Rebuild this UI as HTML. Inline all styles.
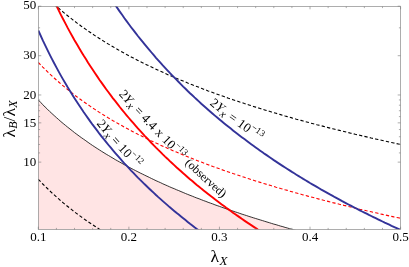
<!DOCTYPE html>
<html><head><meta charset="utf-8"><style>
html,body{margin:0;padding:0;background:#fff;}
svg{display:block;will-change:transform;font-family:"Liberation Serif",serif;}
</style></head><body>
<svg width="409" height="267" viewBox="0 0 409 267">
<defs><clipPath id="c"><rect x="38.3" y="6.2" width="362.3" height="223.1"/></clipPath>
<clipPath id="c2"><rect x="38.3" y="6.2" width="362.3" height="225.1"/></clipPath></defs>
<rect width="409" height="267" fill="#fff"/>
<g clip-path="url(#c)"><path d="M38.3,100.0 L40.6,102.3 L42.8,104.7 L45.1,107.0 L47.4,109.2 L49.6,111.4 L51.9,113.5 L54.2,115.6 L56.4,117.6 L58.7,119.6 L60.9,121.6 L63.2,123.5 L65.5,125.4 L67.7,127.2 L70.0,129.0 L72.3,130.8 L74.5,132.6 L76.8,134.3 L79.1,136.0 L81.3,137.6 L83.6,139.2 L85.9,140.8 L88.1,142.4 L90.4,144.0 L92.6,145.5 L94.9,147.0 L97.2,148.5 L99.4,149.9 L101.7,151.4 L104.0,152.8 L106.2,154.2 L108.5,155.5 L110.8,156.9 L113.0,158.2 L115.3,159.6 L117.6,160.9 L119.8,162.1 L122.1,163.4 L124.3,164.7 L126.6,165.9 L128.9,167.1 L131.1,168.3 L133.4,169.5 L135.7,170.7 L137.9,171.8 L140.2,173.0 L142.5,174.1 L144.7,175.2 L147.0,176.3 L149.3,177.4 L151.5,178.5 L153.8,179.6 L156.0,180.7 L158.3,181.7 L160.6,182.7 L162.8,183.8 L165.1,184.8 L167.4,185.8 L169.6,186.8 L171.9,187.8 L174.2,188.7 L176.4,189.7 L178.7,190.6 L181.0,191.6 L183.2,192.5 L185.5,193.5 L187.7,194.4 L190.0,195.3 L192.3,196.2 L194.5,197.1 L196.8,198.0 L199.1,198.8 L201.3,199.7 L203.6,200.6 L205.9,201.4 L208.1,202.3 L210.4,203.1 L212.7,203.9 L214.9,204.8 L217.2,205.6 L219.5,206.4 L221.7,207.2 L224.0,208.0 L226.2,208.8 L228.5,209.6 L230.8,210.4 L233.0,211.1 L235.3,211.9 L237.6,212.6 L239.8,213.4 L242.1,214.2 L244.4,214.9 L246.6,215.6 L248.9,216.4 L251.2,217.1 L253.4,217.8 L255.7,218.5 L257.9,219.2 L260.2,219.9 L262.5,220.6 L264.7,221.3 L267.0,222.0 L269.3,222.7 L271.5,223.4 L273.8,224.1 L276.1,224.7 L278.3,225.4 L280.6,226.1 L282.9,226.7 L285.1,227.4 L287.4,228.0 L289.6,228.7 L291.9,229.3 L294.2,229.9 L296.4,230.6 L298.7,231.2 L301.0,231.8 L303.2,232.4 L305.5,233.1 L307.8,233.7 L310.0,234.3 L312.3,234.9 L314.6,235.5 L316.8,236.1 L319.1,236.7 L321.3,237.3 L323.6,237.8 L325.9,238.4 L328.1,239.0 L330.4,239.6 L332.7,240.1 L334.9,240.7 L337.2,241.3 L339.5,241.8 L341.7,242.4 L344.0,243.0 L346.3,243.5 L348.5,244.1 L350.8,244.6 L353.0,245.1 L355.3,245.7 L357.6,246.2 L359.8,246.8 L362.1,247.3 L364.4,247.8 L366.6,248.3 L368.9,248.9 L371.2,249.4 L373.4,249.9 L375.7,250.4 L378.0,250.9 L380.2,251.4 L382.5,251.9 L384.7,252.4 L387.0,252.9 L389.3,253.4 L391.5,253.9 L393.8,254.4 L396.1,254.9 L398.3,255.4 L400.6,255.9 L400.6,232.3 L38.3,232.3 Z" fill="#ffe4e4"/></g>
<g clip-path="url(#c)" fill="none">
<path d="M38.3,100.0 L40.6,102.3 L42.8,104.7 L45.1,107.0 L47.4,109.2 L49.6,111.4 L51.9,113.5 L54.2,115.6 L56.4,117.6 L58.7,119.6 L60.9,121.6 L63.2,123.5 L65.5,125.4 L67.7,127.2 L70.0,129.0 L72.3,130.8 L74.5,132.6 L76.8,134.3 L79.1,136.0 L81.3,137.6 L83.6,139.2 L85.9,140.8 L88.1,142.4 L90.4,144.0 L92.6,145.5 L94.9,147.0 L97.2,148.5 L99.4,149.9 L101.7,151.4 L104.0,152.8 L106.2,154.2 L108.5,155.5 L110.8,156.9 L113.0,158.2 L115.3,159.6 L117.6,160.9 L119.8,162.1 L122.1,163.4 L124.3,164.7 L126.6,165.9 L128.9,167.1 L131.1,168.3 L133.4,169.5 L135.7,170.7 L137.9,171.8 L140.2,173.0 L142.5,174.1 L144.7,175.2 L147.0,176.3 L149.3,177.4 L151.5,178.5 L153.8,179.6 L156.0,180.7 L158.3,181.7 L160.6,182.7 L162.8,183.8 L165.1,184.8 L167.4,185.8 L169.6,186.8 L171.9,187.8 L174.2,188.7 L176.4,189.7 L178.7,190.6 L181.0,191.6 L183.2,192.5 L185.5,193.5 L187.7,194.4 L190.0,195.3 L192.3,196.2 L194.5,197.1 L196.8,198.0 L199.1,198.8 L201.3,199.7 L203.6,200.6 L205.9,201.4 L208.1,202.3 L210.4,203.1 L212.7,203.9 L214.9,204.8 L217.2,205.6 L219.5,206.4 L221.7,207.2 L224.0,208.0 L226.2,208.8 L228.5,209.6 L230.8,210.4 L233.0,211.1 L235.3,211.9 L237.6,212.6 L239.8,213.4 L242.1,214.2 L244.4,214.9 L246.6,215.6 L248.9,216.4 L251.2,217.1 L253.4,217.8 L255.7,218.5 L257.9,219.2 L260.2,219.9 L262.5,220.6 L264.7,221.3 L267.0,222.0 L269.3,222.7 L271.5,223.4 L273.8,224.1 L276.1,224.7 L278.3,225.4 L280.6,226.1 L282.9,226.7 L285.1,227.4 L287.4,228.0 L289.6,228.7 L291.9,229.3 L294.2,229.9 L296.4,230.6 L298.7,231.2 L301.0,231.8 L303.2,232.4 L305.5,233.1 L307.8,233.7 L310.0,234.3 L312.3,234.9 L314.6,235.5 L316.8,236.1 L319.1,236.7 L321.3,237.3 L323.6,237.8 L325.9,238.4 L328.1,239.0 L330.4,239.6 L332.7,240.1 L334.9,240.7 L337.2,241.3 L339.5,241.8 L341.7,242.4 L344.0,243.0 L346.3,243.5 L348.5,244.1 L350.8,244.6 L353.0,245.1 L355.3,245.7 L357.6,246.2 L359.8,246.8 L362.1,247.3 L364.4,247.8 L366.6,248.3 L368.9,248.9 L371.2,249.4 L373.4,249.9 L375.7,250.4 L378.0,250.9 L380.2,251.4 L382.5,251.9 L384.7,252.4 L387.0,252.9 L389.3,253.4 L391.5,253.9 L393.8,254.4 L396.1,254.9 L398.3,255.4 L400.6,255.9" stroke="#000" stroke-width="0.8"/>
<path d="M38.3,-11.5 L40.6,-9.1 L42.8,-6.7 L45.1,-4.5 L47.4,-2.2 L49.6,-0.1 L51.9,2.1 L54.2,4.2 L56.4,6.2 L58.7,8.2 L60.9,10.2 L63.2,12.1 L65.5,14.0 L67.7,15.8 L70.0,17.6 L72.3,19.4 L74.5,21.1 L76.8,22.9 L79.1,24.5 L81.3,26.2 L83.6,27.8 L85.9,29.4 L88.1,31.0 L90.4,32.5 L92.6,34.1 L94.9,35.6 L97.2,37.1 L99.4,38.5 L101.7,39.9 L104.0,41.4 L106.2,42.8 L108.5,44.1 L110.8,45.5 L113.0,46.8 L115.3,48.1 L117.6,49.4 L119.8,50.7 L122.1,52.0 L124.3,53.2 L126.6,54.5 L128.9,55.7 L131.1,56.9 L133.4,58.1 L135.7,59.3 L137.9,60.4 L140.2,61.6 L142.5,62.7 L144.7,63.8 L147.0,64.9 L149.3,66.0 L151.5,67.1 L153.8,68.2 L156.0,69.2 L158.3,70.3 L160.6,71.3 L162.8,72.3 L165.1,73.4 L167.4,74.4 L169.6,75.4 L171.9,76.3 L174.2,77.3 L176.4,78.3 L178.7,79.2 L181.0,80.2 L183.2,81.1 L185.5,82.0 L187.7,83.0 L190.0,83.9 L192.3,84.8 L194.5,85.7 L196.8,86.5 L199.1,87.4 L201.3,88.3 L203.6,89.2 L205.9,90.0 L208.1,90.9 L210.4,91.7 L212.7,92.5 L214.9,93.4 L217.2,94.2 L219.5,95.0 L221.7,95.8 L224.0,96.6 L226.2,97.4 L228.5,98.2 L230.8,98.9 L233.0,99.7 L235.3,100.5 L237.6,101.2 L239.8,102.0 L242.1,102.7 L244.4,103.5 L246.6,104.2 L248.9,104.9 L251.2,105.7 L253.4,106.4 L255.7,107.1 L257.9,107.8 L260.2,108.5 L262.5,109.2 L264.7,109.9 L267.0,110.6 L269.3,111.3 L271.5,112.0 L273.8,112.6 L276.1,113.3 L278.3,114.0 L280.6,114.6 L282.9,115.3 L285.1,116.0 L287.4,116.6 L289.6,117.2 L291.9,117.9 L294.2,118.5 L296.4,119.2 L298.7,119.8 L301.0,120.4 L303.2,121.0 L305.5,121.6 L307.8,122.2 L310.0,122.9 L312.3,123.5 L314.6,124.1 L316.8,124.7 L319.1,125.2 L321.3,125.8 L323.6,126.4 L325.9,127.0 L328.1,127.6 L330.4,128.2 L332.7,128.7 L334.9,129.3 L337.2,129.9 L339.5,130.4 L341.7,131.0 L344.0,131.5 L346.3,132.1 L348.5,132.6 L350.8,133.2 L353.0,133.7 L355.3,134.3 L357.6,134.8 L359.8,135.3 L362.1,135.9 L364.4,136.4 L366.6,136.9 L368.9,137.4 L371.2,138.0 L373.4,138.5 L375.7,139.0 L378.0,139.5 L380.2,140.0 L382.5,140.5 L384.7,141.0 L387.0,141.5 L389.3,142.0 L391.5,142.5 L393.8,143.0 L396.1,143.5 L398.3,144.0 L400.6,144.5" stroke="#000" stroke-width="1.1" stroke-dasharray="3.3,2.2"/>
<path d="M38.3,179.3 L40.6,181.7 L42.8,184.0 L45.1,186.3 L47.4,188.5 L49.6,190.7 L51.9,192.8 L54.2,194.9 L56.4,196.9 L58.7,198.9 L60.9,200.9 L63.2,202.8 L65.5,204.7 L67.7,206.5 L70.0,208.3 L72.3,210.1 L74.5,211.9 L76.8,213.6 L79.1,215.3 L81.3,216.9 L83.6,218.6 L85.9,220.2 L88.1,221.7 L90.4,223.3 L92.6,224.8 L94.9,226.3 L97.2,227.8 L99.4,229.2 L101.7,230.7 L104.0,232.1 L106.2,233.5 L108.5,234.9 L110.8,236.2 L113.0,237.6 L115.3,238.9 L117.6,240.2 L119.8,241.5 L122.1,242.7 L124.3,244.0 L126.6,245.2 L128.9,246.4 L131.1,247.6 L133.4,248.8 L135.7,250.0 L137.9,251.2 L140.2,252.3 L142.5,253.4 L144.7,254.6 L147.0,255.7 L149.3,256.8 L151.5,257.8 L153.8,258.9 L156.0,260.0 L158.3,261.0 L160.6,262.0 L162.8,263.1 L165.1,264.1 L167.4,265.1 L169.6,266.1 L171.9,267.1 L174.2,268.0 L176.4,269.0 L178.7,270.0 L181.0,270.9 L183.2,271.8 L185.5,272.8 L187.7,273.7 L190.0,274.6 L192.3,275.5 L194.5,276.4 L196.8,277.3 L199.1,278.2 L201.3,279.0 L203.6,279.9 L205.9,280.7 L208.1,281.6 L210.4,282.4 L212.7,283.3 L214.9,284.1 L217.2,284.9 L219.5,285.7 L221.7,286.5 L224.0,287.3 L226.2,288.1 L228.5,288.9 L230.8,289.7 L233.0,290.4 L235.3,291.2 L237.6,292.0 L239.8,292.7 L242.1,293.5 L244.4,294.2 L246.6,294.9 L248.9,295.7 L251.2,296.4 L253.4,297.1 L255.7,297.8 L257.9,298.5 L260.2,299.3 L262.5,300.0 L264.7,300.6 L267.0,301.3 L269.3,302.0 L271.5,302.7 L273.8,303.4 L276.1,304.0 L278.3,304.7 L280.6,305.4 L282.9,306.0 L285.1,306.7 L287.4,307.3 L289.6,308.0 L291.9,308.6 L294.2,309.2 L296.4,309.9 L298.7,310.5 L301.0,311.1 L303.2,311.8 L305.5,312.4 L307.8,313.0 L310.0,313.6 L312.3,314.2 L314.6,314.8 L316.8,315.4 L319.1,316.0 L321.3,316.6 L323.6,317.2 L325.9,317.7 L328.1,318.3 L330.4,318.9 L332.7,319.5 L334.9,320.0 L337.2,320.6 L339.5,321.2 L341.7,321.7 L344.0,322.3 L346.3,322.8 L348.5,323.4 L350.8,323.9 L353.0,324.5 L355.3,325.0 L357.6,325.5 L359.8,326.1 L362.1,326.6 L364.4,327.1 L366.6,327.7 L368.9,328.2 L371.2,328.7 L373.4,329.2 L375.7,329.7 L378.0,330.2 L380.2,330.7 L382.5,331.2 L384.7,331.8 L387.0,332.3 L389.3,332.8 L391.5,333.2 L393.8,333.7 L396.1,334.2 L398.3,334.7 L400.6,335.2" stroke="#000" stroke-width="1.1" stroke-dasharray="3.3,2.2"/>
<path d="M38.3,62.4 L40.6,64.8 L42.8,67.1 L45.1,69.4 L47.4,71.6 L49.6,73.8 L51.9,75.9 L54.2,78.0 L56.4,80.0 L58.7,82.0 L60.9,84.0 L63.2,85.9 L65.5,87.8 L67.7,89.6 L70.0,91.5 L72.3,93.2 L74.5,95.0 L76.8,96.7 L79.1,98.4 L81.3,100.0 L83.6,101.7 L85.9,103.3 L88.1,104.8 L90.4,106.4 L92.6,107.9 L94.9,109.4 L97.2,110.9 L99.4,112.4 L101.7,113.8 L104.0,115.2 L106.2,116.6 L108.5,118.0 L110.8,119.3 L113.0,120.7 L115.3,122.0 L117.6,123.3 L119.8,124.6 L122.1,125.8 L124.3,127.1 L126.6,128.3 L128.9,129.5 L131.1,130.7 L133.4,131.9 L135.7,133.1 L137.9,134.3 L140.2,135.4 L142.5,136.5 L144.7,137.7 L147.0,138.8 L149.3,139.9 L151.5,141.0 L153.8,142.0 L156.0,143.1 L158.3,144.1 L160.6,145.2 L162.8,146.2 L165.1,147.2 L167.4,148.2 L169.6,149.2 L171.9,150.2 L174.2,151.2 L176.4,152.1 L178.7,153.1 L181.0,154.0 L183.2,155.0 L185.5,155.9 L187.7,156.8 L190.0,157.7 L192.3,158.6 L194.5,159.5 L196.8,160.4 L199.1,161.3 L201.3,162.1 L203.6,163.0 L205.9,163.9 L208.1,164.7 L210.4,165.5 L212.7,166.4 L214.9,167.2 L217.2,168.0 L219.5,168.8 L221.7,169.6 L224.0,170.4 L226.2,171.2 L228.5,172.0 L230.8,172.8 L233.0,173.6 L235.3,174.3 L237.6,175.1 L239.8,175.8 L242.1,176.6 L244.4,177.3 L246.6,178.1 L248.9,178.8 L251.2,179.5 L253.4,180.2 L255.7,181.0 L257.9,181.7 L260.2,182.4 L262.5,183.1 L264.7,183.8 L267.0,184.5 L269.3,185.1 L271.5,185.8 L273.8,186.5 L276.1,187.2 L278.3,187.8 L280.6,188.5 L282.9,189.1 L285.1,189.8 L287.4,190.4 L289.6,191.1 L291.9,191.7 L294.2,192.4 L296.4,193.0 L298.7,193.6 L301.0,194.2 L303.2,194.9 L305.5,195.5 L307.8,196.1 L310.0,196.7 L312.3,197.3 L314.6,197.9 L316.8,198.5 L319.1,199.1 L321.3,199.7 L323.6,200.3 L325.9,200.8 L328.1,201.4 L330.4,202.0 L332.7,202.6 L334.9,203.1 L337.2,203.7 L339.5,204.3 L341.7,204.8 L344.0,205.4 L346.3,205.9 L348.5,206.5 L350.8,207.0 L353.0,207.6 L355.3,208.1 L357.6,208.6 L359.8,209.2 L362.1,209.7 L364.4,210.2 L366.6,210.8 L368.9,211.3 L371.2,211.8 L373.4,212.3 L375.7,212.8 L378.0,213.3 L380.2,213.9 L382.5,214.4 L384.7,214.9 L387.0,215.4 L389.3,215.9 L391.5,216.4 L393.8,216.9 L396.1,217.3 L398.3,217.8 L400.6,218.3" stroke="#f00" stroke-width="1.1" stroke-dasharray="3.3,2.2"/>
<path d="M38.3,30.5 L40.6,35.5 L42.8,40.4 L45.1,45.2 L47.4,49.9 L49.6,54.4 L51.9,58.9 L54.2,63.2 L56.4,67.4 L58.7,71.6 L60.9,75.6 L63.2,79.6 L65.5,83.5 L67.7,87.3 L70.0,91.0 L72.3,94.7 L74.5,98.3 L76.8,101.8 L79.1,105.2 L81.3,108.6 L83.6,112.0 L85.9,115.2 L88.1,118.4 L90.4,121.6 L92.6,124.7 L94.9,127.7 L97.2,130.7 L99.4,133.7 L101.7,136.6 L104.0,139.4 L106.2,142.2 L108.5,145.0 L110.8,147.7 L113.0,150.4 L115.3,153.1 L117.6,155.7 L119.8,158.2 L122.1,160.8 L124.3,163.3 L126.6,165.7 L128.9,168.2 L131.1,170.6 L133.4,172.9 L135.7,175.3 L137.9,177.6 L140.2,179.9 L142.5,182.1 L144.7,184.3 L147.0,186.5 L149.3,188.7 L151.5,190.8 L153.8,192.9 L156.0,195.0 L158.3,197.1 L160.6,199.1 L162.8,201.1 L165.1,203.1 L167.4,205.1 L169.6,207.1 L171.9,209.0 L174.2,210.9 L176.4,212.8 L178.7,214.6 L181.0,216.5 L183.2,218.3 L185.5,220.1 L187.7,221.9 L190.0,223.7 L192.3,225.4 L194.5,227.2 L196.8,228.9 L199.1,230.6 L201.3,232.3 L203.6,234.0 L205.9,235.6 L208.1,237.2 L210.4,238.9 L212.7,240.5 L214.9,242.1 L217.2,243.6 L219.5,245.2 L221.7,246.8 L224.0,248.3 L226.2,249.8 L228.5,251.3 L230.8,252.8 L233.0,254.3 L235.3,255.8 L237.6,257.2 L239.8,258.7 L242.1,260.1 L244.4,261.5 L246.6,262.9 L248.9,264.3 L251.2,265.7 L253.4,267.1 L255.7,268.5 L257.9,269.8 L260.2,271.2 L262.5,272.5 L264.7,273.8 L267.0,275.1 L269.3,276.4 L271.5,277.7 L273.8,279.0 L276.1,280.3 L278.3,281.5 L280.6,282.8 L282.9,284.0 L285.1,285.3 L287.4,286.5 L289.6,287.7 L291.9,288.9 L294.2,290.1 L296.4,291.3 L298.7,292.5 L301.0,293.7 L303.2,294.8 L305.5,296.0 L307.8,297.1 L310.0,298.3 L312.3,299.4 L314.6,300.5 L316.8,301.7 L319.1,302.8 L321.3,303.9 L323.6,305.0 L325.9,306.1 L328.1,307.2 L330.4,308.2 L332.7,309.3 L334.9,310.4 L337.2,311.4 L339.5,312.5 L341.7,313.5 L344.0,314.6 L346.3,315.6 L348.5,316.6 L350.8,317.6 L353.0,318.6 L355.3,319.6 L357.6,320.6 L359.8,321.6 L362.1,322.6 L364.4,323.6 L366.6,324.6 L368.9,325.5 L371.2,326.5 L373.4,327.5 L375.7,328.4 L378.0,329.4 L380.2,330.3 L382.5,331.3 L384.7,332.2 L387.0,333.1 L389.3,334.0 L391.5,334.9 L393.8,335.9 L396.1,336.8 L398.3,337.7 L400.6,338.6" stroke="#333399" stroke-width="1.9"/>
<path d="M38.3,-154.1 L40.6,-147.4 L42.8,-140.9 L45.1,-134.6 L47.4,-128.4 L49.6,-122.4 L51.9,-116.6 L54.2,-110.9 L56.4,-105.3 L58.7,-99.9 L60.9,-94.6 L63.2,-89.4 L65.5,-84.3 L67.7,-79.4 L70.0,-74.5 L72.3,-69.8 L74.5,-65.1 L76.8,-60.6 L79.1,-56.1 L81.3,-51.8 L83.6,-47.5 L85.9,-43.3 L88.1,-39.1 L90.4,-35.1 L92.6,-31.1 L94.9,-27.2 L97.2,-23.4 L99.4,-19.6 L101.7,-15.9 L104.0,-12.2 L106.2,-8.7 L108.5,-5.1 L110.8,-1.7 L113.0,1.7 L115.3,5.1 L117.6,8.4 L119.8,11.6 L122.1,14.8 L124.3,18.0 L126.6,21.1 L128.9,24.2 L131.1,27.2 L133.4,30.2 L135.7,33.1 L137.9,36.0 L140.2,38.8 L142.5,41.6 L144.7,44.4 L147.0,47.2 L149.3,49.9 L151.5,52.5 L153.8,55.2 L156.0,57.8 L158.3,60.3 L160.6,62.8 L162.8,65.3 L165.1,67.8 L167.4,70.3 L169.6,72.7 L171.9,75.1 L174.2,77.4 L176.4,79.7 L178.7,82.0 L181.0,84.3 L183.2,86.6 L185.5,88.8 L187.7,91.0 L190.0,93.2 L192.3,95.3 L194.5,97.4 L196.8,99.5 L199.1,101.6 L201.3,103.7 L203.6,105.7 L205.9,107.7 L208.1,109.7 L210.4,111.7 L212.7,113.7 L214.9,115.6 L217.2,117.5 L219.5,119.4 L221.7,121.3 L224.0,123.2 L226.2,125.0 L228.5,126.8 L230.8,128.6 L233.0,130.4 L235.3,132.2 L237.6,134.0 L239.8,135.7 L242.1,137.4 L244.4,139.1 L246.6,140.8 L248.9,142.5 L251.2,144.2 L253.4,145.8 L255.7,147.5 L257.9,149.1 L260.2,150.7 L262.5,152.3 L264.7,153.9 L267.0,155.4 L269.3,157.0 L271.5,158.5 L273.8,160.1 L276.1,161.6 L278.3,163.1 L280.6,164.6 L282.9,166.1 L285.1,167.5 L287.4,169.0 L289.6,170.4 L291.9,171.9 L294.2,173.3 L296.4,174.7 L298.7,176.1 L301.0,177.5 L303.2,178.9 L305.5,180.2 L307.8,181.6 L310.0,183.0 L312.3,184.3 L314.6,185.6 L316.8,186.9 L319.1,188.3 L321.3,189.6 L323.6,190.8 L325.9,192.1 L328.1,193.4 L330.4,194.7 L332.7,195.9 L334.9,197.2 L337.2,198.4 L339.5,199.6 L341.7,200.9 L344.0,202.1 L346.3,203.3 L348.5,204.5 L350.8,205.7 L353.0,206.8 L355.3,208.0 L357.6,209.2 L359.8,210.3 L362.1,211.5 L364.4,212.6 L366.6,213.7 L368.9,214.9 L371.2,216.0 L373.4,217.1 L375.7,218.2 L378.0,219.3 L380.2,220.4 L382.5,221.5 L384.7,222.6 L387.0,223.6 L389.3,224.7 L391.5,225.8 L393.8,226.8 L396.1,227.9 L398.3,228.9 L400.6,229.9" stroke="#333399" stroke-width="1.9"/>
<path d="M38.3,-36.0 L40.6,-30.3 L42.8,-24.8 L45.1,-19.4 L47.4,-14.1 L49.6,-9.0 L51.9,-4.0 L54.2,0.9 L56.4,5.6 L58.7,10.3 L60.9,14.8 L63.2,19.3 L65.5,23.6 L67.7,27.9 L70.0,32.1 L72.3,36.2 L74.5,40.2 L76.8,44.1 L79.1,48.0 L81.3,51.7 L83.6,55.5 L85.9,59.1 L88.1,62.7 L90.4,66.2 L92.6,69.6 L94.9,73.0 L97.2,76.4 L99.4,79.7 L101.7,82.9 L104.0,86.1 L106.2,89.2 L108.5,92.3 L110.8,95.3 L113.0,98.3 L115.3,101.2 L117.6,104.1 L119.8,107.0 L122.1,109.8 L124.3,112.5 L126.6,115.3 L128.9,118.0 L131.1,120.6 L133.4,123.2 L135.7,125.8 L137.9,128.4 L140.2,130.9 L142.5,133.4 L144.7,135.8 L147.0,138.2 L149.3,140.6 L151.5,143.0 L153.8,145.3 L156.0,147.6 L158.3,149.9 L160.6,152.1 L162.8,154.4 L165.1,156.6 L167.4,158.7 L169.6,160.9 L171.9,163.0 L174.2,165.1 L176.4,167.2 L178.7,169.2 L181.0,171.2 L183.2,173.3 L185.5,175.2 L187.7,177.2 L190.0,179.2 L192.3,181.1 L194.5,183.0 L196.8,184.9 L199.1,186.7 L201.3,188.6 L203.6,190.4 L205.9,192.2 L208.1,194.0 L210.4,195.8 L212.7,197.5 L214.9,199.3 L217.2,201.0 L219.5,202.7 L221.7,204.4 L224.0,206.1 L226.2,207.8 L228.5,209.4 L230.8,211.0 L233.0,212.7 L235.3,214.3 L237.6,215.9 L239.8,217.4 L242.1,219.0 L244.4,220.6 L246.6,222.1 L248.9,223.6 L251.2,225.1 L253.4,226.6 L255.7,228.1 L257.9,229.6 L260.2,231.0 L262.5,232.5 L264.7,233.9 L267.0,235.4 L269.3,236.8 L271.5,238.2 L273.8,239.6 L276.1,241.0 L278.3,242.3 L280.6,243.7 L282.9,245.0 L285.1,246.4 L287.4,247.7 L289.6,249.0 L291.9,250.3 L294.2,251.7 L296.4,252.9 L298.7,254.2 L301.0,255.5 L303.2,256.8 L305.5,258.0 L307.8,259.3 L310.0,260.5 L312.3,261.7 L314.6,263.0 L316.8,264.2 L319.1,265.4 L321.3,266.6 L323.6,267.8 L325.9,268.9 L328.1,270.1 L330.4,271.3 L332.7,272.4 L334.9,273.6 L337.2,274.7 L339.5,275.9 L341.7,277.0 L344.0,278.1 L346.3,279.2 L348.5,280.3 L350.8,281.4 L353.0,282.5 L355.3,283.6 L357.6,284.7 L359.8,285.7 L362.1,286.8 L364.4,287.9 L366.6,288.9 L368.9,290.0 L371.2,291.0 L373.4,292.0 L375.7,293.1 L378.0,294.1 L380.2,295.1 L382.5,296.1 L384.7,297.1 L387.0,298.1 L389.3,299.1 L391.5,300.1 L393.8,301.1 L396.1,302.0 L398.3,303.0 L400.6,304.0" stroke="#f00" stroke-width="1.9"/>
</g>
<g stroke="#777" stroke-width="0.6" fill="none">
<rect x="38.5" y="6.5" width="362" height="223"/>
<line x1="38.30" y1="229.50" x2="38.30" y2="226.70"/>
<line x1="38.30" y1="6.50" x2="38.30" y2="9.30"/>
<line x1="56.41" y1="229.50" x2="56.41" y2="227.90"/>
<line x1="56.41" y1="6.50" x2="56.41" y2="8.10"/>
<line x1="74.53" y1="229.50" x2="74.53" y2="227.90"/>
<line x1="74.53" y1="6.50" x2="74.53" y2="8.10"/>
<line x1="92.64" y1="229.50" x2="92.64" y2="227.90"/>
<line x1="92.64" y1="6.50" x2="92.64" y2="8.10"/>
<line x1="110.76" y1="229.50" x2="110.76" y2="227.90"/>
<line x1="110.76" y1="6.50" x2="110.76" y2="8.10"/>
<line x1="128.88" y1="229.50" x2="128.88" y2="226.70"/>
<line x1="128.88" y1="6.50" x2="128.88" y2="9.30"/>
<line x1="146.99" y1="229.50" x2="146.99" y2="227.90"/>
<line x1="146.99" y1="6.50" x2="146.99" y2="8.10"/>
<line x1="165.11" y1="229.50" x2="165.11" y2="227.90"/>
<line x1="165.11" y1="6.50" x2="165.11" y2="8.10"/>
<line x1="183.22" y1="229.50" x2="183.22" y2="227.90"/>
<line x1="183.22" y1="6.50" x2="183.22" y2="8.10"/>
<line x1="201.34" y1="229.50" x2="201.34" y2="227.90"/>
<line x1="201.34" y1="6.50" x2="201.34" y2="8.10"/>
<line x1="219.45" y1="229.50" x2="219.45" y2="226.70"/>
<line x1="219.45" y1="6.50" x2="219.45" y2="9.30"/>
<line x1="237.56" y1="229.50" x2="237.56" y2="227.90"/>
<line x1="237.56" y1="6.50" x2="237.56" y2="8.10"/>
<line x1="255.68" y1="229.50" x2="255.68" y2="227.90"/>
<line x1="255.68" y1="6.50" x2="255.68" y2="8.10"/>
<line x1="273.80" y1="229.50" x2="273.80" y2="227.90"/>
<line x1="273.80" y1="6.50" x2="273.80" y2="8.10"/>
<line x1="291.91" y1="229.50" x2="291.91" y2="227.90"/>
<line x1="291.91" y1="6.50" x2="291.91" y2="8.10"/>
<line x1="310.03" y1="229.50" x2="310.03" y2="226.70"/>
<line x1="310.03" y1="6.50" x2="310.03" y2="9.30"/>
<line x1="328.14" y1="229.50" x2="328.14" y2="227.90"/>
<line x1="328.14" y1="6.50" x2="328.14" y2="8.10"/>
<line x1="346.26" y1="229.50" x2="346.26" y2="227.90"/>
<line x1="346.26" y1="6.50" x2="346.26" y2="8.10"/>
<line x1="364.37" y1="229.50" x2="364.37" y2="227.90"/>
<line x1="364.37" y1="6.50" x2="364.37" y2="8.10"/>
<line x1="382.49" y1="229.50" x2="382.49" y2="227.90"/>
<line x1="382.49" y1="6.50" x2="382.49" y2="8.10"/>
<line x1="400.60" y1="229.50" x2="400.60" y2="226.70"/>
<line x1="400.60" y1="6.50" x2="400.60" y2="9.30"/>
<line x1="38.50" y1="162.14" x2="41.30" y2="162.14"/>
<line x1="400.50" y1="162.14" x2="397.70" y2="162.14"/>
<line x1="38.50" y1="122.85" x2="41.30" y2="122.85"/>
<line x1="400.50" y1="122.85" x2="397.70" y2="122.85"/>
<line x1="38.50" y1="94.98" x2="41.30" y2="94.98"/>
<line x1="400.50" y1="94.98" x2="397.70" y2="94.98"/>
<line x1="38.50" y1="55.69" x2="41.30" y2="55.69"/>
<line x1="400.50" y1="55.69" x2="397.70" y2="55.69"/>
<line x1="38.50" y1="6.20" x2="41.30" y2="6.20"/>
<line x1="400.50" y1="6.20" x2="397.70" y2="6.20"/>
<line x1="38.50" y1="152.91" x2="40.10" y2="152.91"/>
<line x1="400.50" y1="152.91" x2="398.90" y2="152.91"/>
<line x1="38.50" y1="144.47" x2="40.10" y2="144.47"/>
<line x1="400.50" y1="144.47" x2="398.90" y2="144.47"/>
<line x1="38.50" y1="136.72" x2="40.10" y2="136.72"/>
<line x1="400.50" y1="136.72" x2="398.90" y2="136.72"/>
<line x1="38.50" y1="129.54" x2="40.10" y2="129.54"/>
<line x1="400.50" y1="129.54" x2="398.90" y2="129.54"/>
<line x1="38.50" y1="116.60" x2="40.10" y2="116.60"/>
<line x1="400.50" y1="116.60" x2="398.90" y2="116.60"/>
<line x1="38.50" y1="110.73" x2="40.10" y2="110.73"/>
<line x1="400.50" y1="110.73" x2="398.90" y2="110.73"/>
<line x1="38.50" y1="105.19" x2="40.10" y2="105.19"/>
<line x1="400.50" y1="105.19" x2="398.90" y2="105.19"/>
<line x1="38.50" y1="99.95" x2="40.10" y2="99.95"/>
<line x1="400.50" y1="99.95" x2="398.90" y2="99.95"/>
<line x1="38.50" y1="27.82" x2="40.10" y2="27.82"/>
<line x1="400.50" y1="27.82" x2="398.90" y2="27.82"/>
</g>
<g font-size="13px" fill="#000">
<text x="38.3" y="240.7" text-anchor="middle">0.1</text>
<text x="128.9" y="240.7" text-anchor="middle">0.2</text>
<text x="219.4" y="240.7" text-anchor="middle">0.3</text>
<text x="310.0" y="240.7" text-anchor="middle">0.4</text>
<text x="400.6" y="240.7" text-anchor="middle">0.5</text>
<text x="36.3" y="165.7" text-anchor="end">10</text>
<text x="36.3" y="126.5" text-anchor="end">15</text>
<text x="36.3" y="98.6" text-anchor="end">20</text>
<text x="36.3" y="59.3" text-anchor="end">30</text>
<text x="36.3" y="8.8" text-anchor="end">50</text>
</g>
<g fill="#000">
<text x="210.6" y="262.2" font-size="17.5px">λ<tspan font-size="13px" font-style="italic" dx="0.5" dy="2.8">X</tspan></text>
<text transform="translate(15.1,137.6) rotate(-90)" font-size="17.5px">λ<tspan font-size="12px" font-style="italic" dx="0.3" dy="2.3">B</tspan><tspan dy="-2.3" dx="0">/</tspan>λ<tspan font-size="12px" font-style="italic" dx="0.3" dy="2.3">X</tspan></text>
</g>
<defs><path id="t1" d="M96.27,123.69 L97.85,125.67 L99.43,127.62 L101.01,129.55 L102.59,131.45 L104.16,133.34 L105.74,135.20 L107.32,137.05 L108.89,138.87 L110.46,140.67 L112.04,142.46 L113.61,144.23 L115.18,145.98 L116.75,147.71 L118.33,149.42 L119.90,151.12 L121.47,152.79 L123.03,154.46 L124.60,156.10 L126.17,157.73 L127.74,159.35 L129.31,160.94 L130.87,162.53 L132.44,164.10 L134.01,165.65 L135.57,167.19 L137.14,168.72 L138.70,170.23 L140.26,171.72 L141.83,173.21 L143.39,174.68 L144.95,176.14 L146.51,177.58 L148.08,179.01 L149.64,180.44 L151.20,181.84 L152.76,183.24 L154.32,184.62 L155.88,186.00 L157.44,187.36 L159.00,188.71 L160.56,190.05 L162.12,191.37 L163.67,192.69 L165.23,194.00 L166.79,195.29 L168.35,196.58 L169.90,197.85 L171.46,199.12 L173.02,200.38 L174.57,201.62 L176.13,202.86 L177.68,204.08 L179.24,205.30 L180.79,206.51 L182.35,207.71 L183.90,208.90 L185.46,210.08 L187.01,211.26 L188.57,212.42"/><path id="t2" d="M118.42,94.45 L121.46,97.84 L124.50,101.21 L127.55,104.56 L130.59,107.89 L133.63,111.20 L136.68,114.49 L139.72,117.75 L142.76,121.00 L145.81,124.22 L148.85,127.42 L151.89,130.60 L154.94,133.76 L157.98,136.90 L161.02,140.01 L164.07,143.11 L167.11,146.18 L170.16,149.23 L173.20,152.26 L176.25,155.27 L179.29,158.26 L182.33,161.23 L185.38,164.17 L188.42,167.10 L191.47,170.00 L194.52,172.88 L197.56,175.74 L200.61,178.58 L203.65,181.40 L206.70,184.20 L209.74,186.97 L212.79,189.72 L215.84,192.46 L218.88,195.17 L221.93,197.86 L224.97,200.52 L228.02,203.17 L231.07,205.80 L234.11,208.40 L237.16,210.98"/><path id="t3" d="M209.38,104.30 L211.18,105.78 L212.98,107.25 L214.78,108.70 L216.58,110.15 L218.37,111.58 L220.17,112.99 L221.97,114.40 L223.77,115.80 L225.56,117.18 L227.36,118.56 L229.15,119.92 L230.95,121.27 L232.74,122.62 L234.54,123.95 L236.33,125.27 L238.13,126.58 L239.92,127.88 L241.71,129.18 L243.51,130.46 L245.30,131.73 L247.09,133.00 L248.89,134.25 L250.68,135.50 L252.47,136.73 L254.26,137.96 L256.05,139.18 L257.84,140.39 L259.64,141.59 L261.43,142.79 L263.22,143.97 L265.01,145.15 L266.80,146.32 L268.59,147.48 L270.38,148.63 L272.17,149.77 L273.96,150.91 L275.74,152.04 L277.53,153.16 L279.32,154.27 L281.11,155.38 L282.90,156.48 L284.69,157.57 L286.48,158.66 L288.26,159.73 L290.05,160.80 L291.84,161.87 L293.63,162.93 L295.41,163.98 L297.20,165.02 L298.99,166.06 L300.77,167.09 L302.56,168.11 L304.35,169.13 L306.13,170.14 L307.92,171.14 L309.70,172.14 L311.49,173.13 L313.28,174.12 L315.07,175.10"/></defs>
<g fill="#000" font-size="13px">
<text letter-spacing="0.1"><textPath href="#t1">2<tspan font-style="italic">Y</tspan><tspan font-size="11px" font-style="italic" dy="2.5">x</tspan><tspan dy="-2.5"> = 10</tspan><tspan font-size="9px" dy="-5.5">−12</tspan></textPath></text>
<text letter-spacing="0.1"><textPath href="#t2">2<tspan font-style="italic">Y</tspan><tspan font-size="11px" font-style="italic" dy="2.5">x</tspan><tspan dy="-2.5"> = 4.4 x 10</tspan><tspan font-size="9px" dy="-5.5">−13</tspan><tspan dy="5.5" dx="2" font-size="12px" letter-spacing="0"> (observed)</tspan></textPath></text>
<text letter-spacing="0.3"><textPath href="#t3">2<tspan font-style="italic">Y</tspan><tspan font-size="11px" font-style="italic" dy="2.5">x</tspan><tspan dy="-2.5"> = 10</tspan><tspan font-size="9px" dy="-5.5">−13</tspan></textPath></text>
</g>
</svg></body></html>
